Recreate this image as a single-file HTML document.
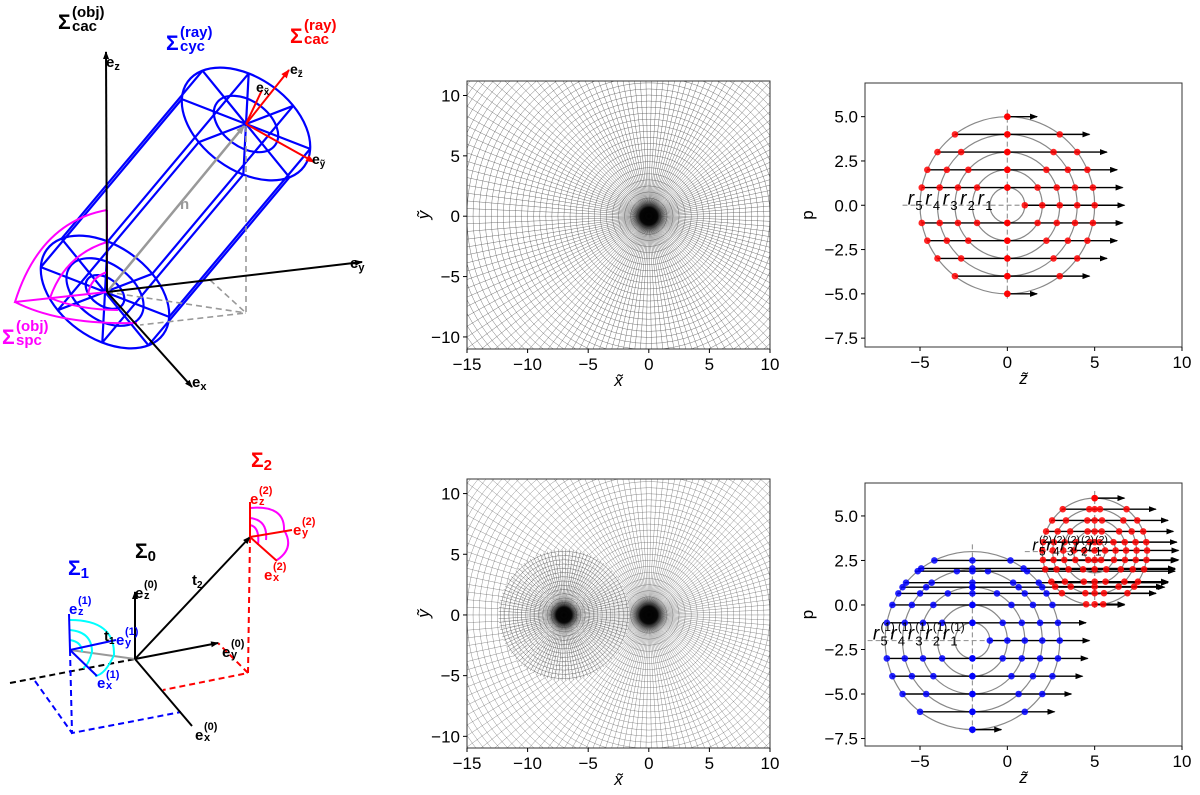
<!DOCTYPE html>
<html><head><meta charset="utf-8"><style>
html,body{margin:0;padding:0;background:#fff;width:1200px;height:795px;overflow:hidden;}
svg{display:block;font-family:"Liberation Sans",sans-serif;overflow:hidden;}
</style></head><body>
<svg id="fig" width="1200" height="795" viewBox="0 0 1200 795" xmlns="http://www.w3.org/2000/svg">
<defs>
<marker id="ak" markerWidth="8" markerHeight="6" refX="7" refY="3" orient="auto" markerUnits="userSpaceOnUse"><path d="M0,0 L8,3 L0,6 z" fill="#000"/></marker>
<marker id="ar" markerWidth="9" markerHeight="7" refX="8" refY="3.5" orient="auto" markerUnits="userSpaceOnUse"><path d="M0,0 L9,3.5 L0,7 z" fill="#f00"/></marker>
<marker id="ag" markerWidth="9" markerHeight="7" refX="8" refY="3.5" orient="auto" markerUnits="userSpaceOnUse"><path d="M0,0 L9,3.5 L0,7 z" fill="#999"/></marker>
<clipPath id="cTM"><rect x="467" y="81" width="303" height="268"/></clipPath>
<clipPath id="cBM"><rect x="467" y="479" width="303" height="269"/></clipPath>
<radialGradient id="dark"><stop offset="0" stop-color="#000"/><stop offset="0.45" stop-color="#000" stop-opacity="0.95"/><stop offset="0.6" stop-color="#222" stop-opacity="0.7"/><stop offset="1" stop-color="#555" stop-opacity="0"/></radialGradient>
</defs>

<g id="tl" font-weight="bold">
  <g id="cyl" stroke="#00f" stroke-width="2.2" fill="none"></g>
  <g stroke="#f0f" stroke-width="2" fill="none">
    <path d="M107,210 L107,292 M107,210 Q40,222 15,302 L107,292 M15,302 Q60,325 137,323 M107,242 Q65,255 50,298 M50,298 Q80,310 118,310 M107,272 Q90,278 88,295"/>
  </g>
  <line x1="107" y1="292" x2="244" y2="126" stroke="#999" stroke-width="2.5" marker-end="url(#ag)"/>
  <text x="180" y="209" fill="#999" font-size="15">n</text>
  <g stroke="#999" stroke-width="1.6" stroke-dasharray="6,4" fill="none">
    <path d="M246,126 L246,313 L140,325 M107,292 L246,313 M210,280 L246,313"/>
  </g>
  <g stroke="#000" stroke-width="2">
    <line x1="107" y1="292" x2="106" y2="52" marker-end="url(#ak)"/>
    <line x1="107" y1="292" x2="362" y2="262" marker-end="url(#ak)"/>
    <line x1="107" y1="292" x2="192" y2="387" marker-end="url(#ak)"/>
  </g>
  <g stroke="#f00" stroke-width="2">
    <line x1="246" y1="124" x2="289" y2="70" marker-end="url(#ar)"/>
    <line x1="246" y1="124" x2="262" y2="90"/>
    <line x1="246" y1="124" x2="314" y2="162" marker-end="url(#ar)"/>
  </g>
  <text x="106" y="67" font-size="15">e<tspan font-size="11" dy="3">z</tspan></text>
  <text x="350" y="268" font-size="15">e<tspan font-size="11" dy="3">y</tspan></text>
  <text x="192" y="387" font-size="15">e<tspan font-size="11" dy="3">x</tspan></text>
  <text x="290" y="74" font-size="14">e<tspan font-size="10" dy="3">z̃</tspan></text>
  <text x="256" y="92" font-size="14">e<tspan font-size="10" dy="3">x̃</tspan></text>
  <text x="312" y="164" font-size="14">e<tspan font-size="10" dy="3">ỹ</tspan></text>
  <text x="58" y="29" font-size="21">Σ</text><text x="72" y="17" font-size="15">(obj)</text><text x="72" y="31" font-size="15">cac</text>
  <g fill="#00f"><text x="166" y="50" font-size="21">Σ</text><text x="180" y="37" font-size="15">(ray)</text><text x="180" y="51" font-size="15">cyc</text></g>
  <g fill="#f00"><text x="290" y="43" font-size="21">Σ</text><text x="304" y="30" font-size="15">(ray)</text><text x="304" y="44" font-size="15">cac</text></g>
  <g fill="#f0f"><text x="2" y="344" font-size="21">Σ</text><text x="16" y="331" font-size="15">(obj)</text><text x="16" y="345" font-size="15">spc</text></g>
</g>

<g id="bl" font-weight="bold">
  <g fill="none" stroke-width="2" stroke-dasharray="6,4">
    <path d="M10,683 L135,659" stroke="#000"/>
    <path d="M70,650 L72,733 L181,712 M35,681 L72,733" stroke="#00f"/>
    <path d="M250,537 L248,673 L163,690 M248,673 L218,643" stroke="#f00"/>
  </g>
  <line x1="70" y1="650" x2="135" y2="659" stroke="#999" stroke-width="2"/>
  <g stroke="#000" stroke-width="2">
    <line x1="135" y1="659" x2="135" y2="592" marker-end="url(#ak)"/>
    <line x1="135" y1="659" x2="218" y2="643" marker-end="url(#ak)"/>
    <line x1="135" y1="659" x2="192" y2="726"/>
    <line x1="135" y1="659" x2="250" y2="537" marker-end="url(#ak)"/>
  </g>
  <g stroke="#0ff" stroke-width="2" fill="none"><path d="M70,620 Q115,620 114,655 Q105,675 95,676 M70,630 Q92,632 92,652 Q88,666 83,668 M70,640 Q82,642 82,652"/></g>
  <g stroke="#00f" stroke-width="2"><line x1="69" y1="614" x2="70" y2="650"/><line x1="70" y1="650" x2="116" y2="640"/><line x1="70" y1="650" x2="97" y2="676"/></g>
  <g stroke="#f0f" stroke-width="2" fill="none"><path d="M250,508 Q285,505 284,530 Q295,548 277,560 M250,518 Q268,520 266,540 M250,525 Q260,527 258,545"/></g>
  <g stroke="#f00" stroke-width="2"><line x1="250" y1="502" x2="250" y2="537"/><line x1="250" y1="537" x2="292" y2="530"/><line x1="250" y1="537" x2="277" y2="561"/></g>
  <g fill="#000"><text x="135" y="558" font-size="21">Σ<tspan font-size="15" dy="3">0</tspan></text>
  <text x="135" y="598" font-size="15">e</text><text x="144" y="588" font-size="11">(0)</text><text x="144" y="599" font-size="11">z</text>
  <text x="222" y="657" font-size="15">e</text><text x="231" y="647" font-size="11">(0)</text><text x="231" y="658" font-size="11">y</text>
  <text x="195" y="740" font-size="15">e</text><text x="204" y="730" font-size="11">(0)</text><text x="204" y="741" font-size="11">x</text>
  <text x="192" y="585" font-size="15">t<tspan font-size="10" dy="3">2</tspan></text>
  <text x="104" y="641" font-size="15">t<tspan font-size="10" dy="3">1</tspan></text></g>
  <g fill="#00f"><text x="68" y="575" font-size="21">Σ<tspan font-size="15" dy="3">1</tspan></text>
  <text x="69" y="614" font-size="15">e</text><text x="78" y="604" font-size="11">(1)</text><text x="78" y="615" font-size="11">z</text>
  <text x="116" y="645" font-size="15">e</text><text x="125" y="635" font-size="11">(1)</text><text x="125" y="646" font-size="11">y</text>
  <text x="97" y="688" font-size="15">e</text><text x="106" y="678" font-size="11">(1)</text><text x="106" y="689" font-size="11">x</text></g>
  <g fill="#f00"><text x="251" y="467" font-size="21">Σ<tspan font-size="15" dy="3">2</tspan></text>
  <text x="250" y="504" font-size="15">e</text><text x="259" y="494" font-size="11">(2)</text><text x="259" y="505" font-size="11">z</text>
  <text x="293" y="535" font-size="15">e</text><text x="302" y="525" font-size="11">(2)</text><text x="302" y="536" font-size="11">y</text>
  <text x="264" y="580" font-size="15">e</text><text x="273" y="570" font-size="11">(2)</text><text x="273" y="581" font-size="11">x</text></g>
</g>

<g id="tm"></g>
<g id="bm"></g>
<g id="tr"></g>
<g id="br"></g>
</svg>
<script>
const radiiTR = [1, 2, 3, 4, 5];
const rowsTR = [-5, -4, -3, -2, -1, 0, 1, 2, 3, 4, 5];
const centerTR = [0, 0];
const arrowExtTR = 1.7;
const blueCenter = [-2, -2];
const blueRadii = [1, 2, 3, 4, 5];
const blueRows = [-7, -6, -5, -4, -3, -2, -1, 0, 0.65, 1.0, 1.25, 1.9, 2.05, 2.5];
const blueStarts = [-2, -5, -6, -6.6, -6.9, -1, -6.9, -6.7, -6.3, -6.1, -5.9, -5.3, -5.1, -4.3];
const blueTips = [-0.35, 2.7, 3.66, 4.3, 4.6, 4.7, 4.5, 6.7, 8.5, 9.0, 9.2, 9.6, 9.6, 9.75];
const redCenter = [5, 3];
const redRadii = [0.6, 1.2, 1.8, 2.4, 3.0];
const redRows = [6.0, 5.38, 4.75, 4.13, 3.53, 3.06, 2.53, 2.0, 1.31, 1.03, 0.66, 0.04];
const redStarts = [5.0, 3.1, 2.5, 2.2, 2.0, 3.6, 2.0, 2.0, 2.5, 2.6, 3.1, 5.0];
const redTips = [6.7, 8.5, 9.2, 9.5, 9.7, 9.8, 9.8, 9.6, 9.2, 8.9, 8.5, 6.7];
const xTicksMid = [-15, -10, -5, 0, 5, 10];
const yTicksMid = [10, 5, 0, -5, -10];
const xTicksRight = [-5, 0, 5, 10];
const yTicksRight = [5.0, 2.5, 0.0, -2.5, -5.0, -7.5];
const meshCenters = [[0, 0]];
const meshCenters2 = [[0, 0], [-7, 0]];
const labelIdx = [5, 4, 3, 2, 1];

const NS = 'http://www.w3.org/2000/svg';
function mk(tag, attrs, parent) { const e = document.createElementNS(NS, tag); for (const k in attrs) e.setAttribute(k, attrs[k]); parent.appendChild(e); return e; }
function axis(x0, x1, xmin, xmax, y0, y1, ymin, ymax) {
  return { x0, x1, y0, y1, sx: v => x0 + (v - xmin) / (xmax - xmin) * (x1 - x0), sy: v => y1 - (v - ymin) / (ymax - ymin) * (y1 - y0) };
}
function fmt(v, dec) { const s = dec ? v.toFixed(1) : String(v); return s.replace('-', '\u2212'); }
function frame(g, A, xt, yt, dec, xl, yl) {
  const f = mk('rect', { x: A.x0, y: A.y0, width: A.x1 - A.x0, height: A.y1 - A.y0, fill: 'none', stroke: '#333', 'stroke-width': 1 }, g);
  
  
  xt.forEach(v => { const x = A.sx(v); mk('line', { x1: x, x2: x, y1: A.y1, y2: A.y1 + 4, stroke: '#000' }, g);
    const t = mk('text', { x: x, y: A.y1 + 21, 'font-size': 17, 'text-anchor': 'middle' }, g); t.textContent = fmt(v, false);
      });
  yt.forEach(v => { const y = A.sy(v); mk('line', { x1: A.x0 - 4, x2: A.x0, y1: y, y2: y, stroke: '#000' }, g);
    const t = mk('text', { x: A.x0 - 7, y: y + 6, 'font-size': 17, 'text-anchor': 'end' }, g); t.textContent = fmt(v, dec);
      });
  const tx = mk('text', { x: (A.x0 + A.x1) / 2, y: A.y1 + 37, 'font-size': 17, 'text-anchor': 'middle', 'font-style': 'italic' }, g); tx.textContent = xl;
   
  const yy = (A.y0 + A.y1) / 2, xx = A.x0 - (dec ? 52 : 38);
  const ty = mk('text', { x: xx, y: yy, 'font-size': 17, 'text-anchor': 'middle', transform: `rotate(-90 ${xx} ${yy})`, 'font-style': dec ? 'normal' : 'italic' }, g); ty.textContent = yl;
   
}
function polarMesh(g, A, c, rmax, dr, nRad, op, dk) {
  const cx = A.sx(c[0]), cy = A.sy(c[1]), k = A.sx(1) - A.sx(0);
  let d = '';
  for (let i = 0; i < nRad; i++) { const a = i / nRad * 2 * Math.PI; d += `M${cx + Math.cos(a) * 0.3 * k},${cy - Math.sin(a) * 0.3 * k}L${cx + Math.cos(a) * rmax * k},${cy - Math.sin(a) * rmax * k}`; }
  mk('path', { d, stroke: '#555', 'stroke-width': 0.5, 'stroke-opacity': op, fill: 'none' }, g);
  for (let r = dr; r <= rmax; r += dr) mk('circle', { cx, cy, r: r * k, fill: 'none', stroke: '#555', 'stroke-width': 0.5, 'stroke-opacity': op }, g);
  mk('circle', { cx, cy, r: dk * k, fill: 'url(#dark)' }, g);
}
(function () {
  const g = document.getElementById('tm');
  const A = axis(467, 770, -15, 10, 81, 349, -11.0, 11.2);
  const m = mk('g', { 'clip-path': 'url(#cTM)' }, g);
  meshCenters.forEach(c => polarMesh(m, A, c, 22, 0.5, 150, 0.8, 1.6));
  frame(g, A, xTicksMid, yTicksMid, false, 'x̃', 'ỹ');
})();
(function () {
  const g = document.getElementById('bm');
  const A = axis(467, 770, -15, 10, 479, 748, -10.96, 11.2);
  const m = mk('g', { 'clip-path': 'url(#cBM)' }, g);
  polarMesh(m, A, meshCenters2[0], 22, 0.5, 150, 0.65, 1.6);
  mk('circle', { cx: A.sx(-7), cy: A.sy(0), r: (A.sx(5.4) - A.sx(0)), fill: '#fff', 'fill-opacity': 0.6 }, m);
  polarMesh(m, A, meshCenters2[1], 5.4, 0.35, 110, 0.8, 1.4);
  frame(g, A, xTicksMid, yTicksMid, false, 'x̃', 'ỹ');
})();
function rayPlot(g, A, c, radii, rows, starts, tips, col, sub) {
  radii.forEach(r => { const e = mk('ellipse', { cx: A.sx(c[0]), cy: A.sy(c[1]), rx: A.sx(r) - A.sx(0), ry: A.sy(0) - A.sy(r), fill: 'none', stroke: '#888', 'stroke-width': 1.2 }, g);
      });
  const R = radii[radii.length - 1];
  mk('path', { d: `M${A.sx(c[0])},${A.sy(c[1] + R + 0.4)}V${A.sy(c[1] - R - 0.3)}M${A.sx(c[0] - R - 1)},${A.sy(c[1])}H${A.sx(c[0] + 0.8)}`, stroke: '#999', 'stroke-dasharray': '5,3', 'stroke-width': 1.2, fill: 'none' }, g);
  rows.forEach((p, i) => {
    const dy = p - c[1];
    const ar = mk('line', { x1: A.sx(starts[i]), x2: A.sx(tips[i]), y1: A.sy(p), y2: A.sy(p), stroke: '#000', 'stroke-width': 1.4, 'marker-end': 'url(#ak)' }, g);
     
    const zs = [];
    if (Math.abs(dy) > 1e-6) zs.push(0);
    radii.forEach(r => { if (r >= Math.abs(dy) - 1e-6) { const h = Math.sqrt(Math.max(0, r * r - dy * dy)); zs.push(h); if (Math.abs(dy) > 1e-6 && h > 1e-6) zs.push(-h); } });
    zs.forEach(z => { const pt = mk('circle', { cx: A.sx(c[0] + z), cy: A.sy(p), r: 3.3, fill: col, 'fill-opacity': 0.85 }, g);
        });
  });
  const isRed = sub === '(2)';
  const step = isRed ? 14 : (A.sx(R / 5) - A.sx(0));
  const x0 = isRed ? A.sx(c[0] - R) - 10 : A.sx(c[0] - R) - step * 0.7, yb = A.sy(c[1]) - 1;
  const fs = isRed ? 17 : 19;
  labelIdx.forEach((n, i) => {
    const x = x0 + i * step;
    const t = mk('text', { x: x, y: yb, 'font-size': fs, 'font-style': 'italic' }, g);
    t.textContent = 'r';
    
    
    const s = mk('text', { x: x + fs * 0.4, y: yb + fs * 0.3, 'font-size': fs * 0.68 }, g);
    s.textContent = String(n);
    if (sub) { const u = mk('text', { x: x + fs * 0.4, y: yb - fs * 0.45, 'font-size': fs * 0.62 }, g); u.textContent = sub; }
  });
}
(function () {
  const g = document.getElementById('tr');
  const A = axis(865, 1182, -8.15, 10, 83, 347, -8.0, 6.9);
  const starts = rowsTR.map(p => p === 0 ? radiiTR[0] : -Math.sqrt(Math.max(0, 25 - p * p)));
  const tips = rowsTR.map(p => Math.sqrt(Math.max(0, 25 - p * p)) + arrowExtTR);
  rayPlot(g, A, centerTR, radiiTR, rowsTR, starts, tips, '#f00', '');
  frame(g, A, xTicksRight, yTicksRight, true, 'z̃', 'p');
})();
(function () {
  const g = document.getElementById('br');
  const A = axis(865, 1182, -8.15, 10, 483, 746, -7.92, 6.85);
  rayPlot(g, A, blueCenter, blueRadii, blueRows, blueStarts, blueTips, '#00f', '(1)');
  rayPlot(g, A, redCenter, redRadii, redRows, redStarts, redTips, '#f00', '(2)');
  frame(g, A, xTicksRight, yTicksRight, true, 'z̃', 'p');
})();
(function () {
  const g = document.getElementById('cyl');
  const thDeg = 36, th = thDeg * Math.PI / 180, rx = 72, ry = 46;
  const B = [105, 292], T = [246, 124];
  const P = (c, s, t) => { const x = rx * s * Math.cos(t), y = ry * s * Math.sin(t); return [c[0] + x * Math.cos(th) - y * Math.sin(th), c[1] + x * Math.sin(th) + y * Math.cos(th)]; };
  [[B, [1, 0.6, 0.3]], [T, [1, 0.5]]].forEach(([c, ss]) => ss.forEach(s => mk('ellipse', { cx: c[0], cy: c[1], rx: rx * s, ry: ry * s, transform: `rotate(${thDeg} ${c[0]} ${c[1]})` }, g)));
  let d = '';
  for (let i = 0; i < 8; i++) { const t = i * Math.PI / 4 + Math.PI / 8; const a = P(B, 1, t), b = P(T, 1, t); d += `M${a}L${b}`;
    d += `M${T}L${P(T, 1, t)}`; d += `M${B}L${P(B, 1, t)}`; }
  mk('path', { d }, g);
})();
</script>
</body></html>
